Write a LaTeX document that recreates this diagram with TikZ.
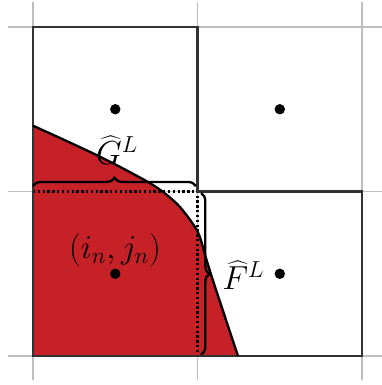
\documentclass[tikz,border=0pt]{standalone}
\usetikzlibrary{decorations.pathreplacing}
\definecolor{fillred}{RGB}{198,33,39}
\definecolor{gridgray}{RGB}{190,190,190}
\definecolor{boxgray}{RGB}{50,50,50}
\begin{document}
\begin{tikzpicture}[x=3cm,y=3cm,
  gridline/.style={gridgray, line width=0.7pt},
  cellbox/.style={boxgray, line width=1.3pt, line join=miter},
  dotline/.style={black, line width=1.4pt, dash pattern=on 1.2pt off 1.3pt},
  bracestyle/.style={black, line width=1.2pt, decorate, decoration={brace, amplitude=4.3pt}},
  interface/.style={black, line width=1.2pt},
  centerdot/.style={circle, fill=black, inner sep=0pt, minimum size=0.19cm},
  lbl/.style={inner sep=0pt, font=\fontsize{16.5}{20}\selectfont}]
\useasboundingbox (-0.2006,-0.176) rectangle (2.1155,2.164);
% grid
\foreach \x in {0,1,2} \draw[gridline] (\x,-0.146) -- (\x,2.154);
\foreach \y in {0,1,2} \draw[gridline] (-0.152,\y) -- (2.2,\y);
% red region
\fill[fillred] (0,0) -- plot[smooth] coordinates {(0,1.40) (0.40,1.215) (0.72,1.045) (0.87,0.93) (0.96,0.82) (1.01,0.735) (1.05,0.60) (1.10,0.44) (1.246,0)} -- cycle;
% dotted cell boundary
\draw[dotline] (0,1) -- (1,1) -- (1,0);
% L-shaped outline
\draw[cellbox] (0,0) -- (2,0) -- (2,1) -- (1,1) -- (1,2) -- (0,2) -- cycle;
% interface curve
\draw[interface] plot[smooth] coordinates {(0,1.40) (0.40,1.215) (0.72,1.045) (0.87,0.93) (0.96,0.82) (1.01,0.735) (1.05,0.60) (1.10,0.44) (1.246,0)};
% braces
\draw[bracestyle] (0,1.033) -- (0.99,1.033);
\draw[bracestyle] (1.022,0.99) -- (1.022,0.008);
% cell centres
\node[centerdot] (c00) at (0.5,0.5) {};
\node[centerdot] (c01) at (0.5,1.5) {};
\node[centerdot] (c11) at (1.5,1.5) {};
\node[centerdot] (c10) at (1.5,0.5) {};
% labels
\node[lbl] (glabel) at (0.511,1.252) {$\widehat{G}^L$};
\node[lbl] (cellidx) at (0.498,0.644) {$(i_n,j_n)$};
\node[lbl] (flabel) at (1.28,0.492) {$\widehat{F}^L$};
\end{tikzpicture}
\end{document}
